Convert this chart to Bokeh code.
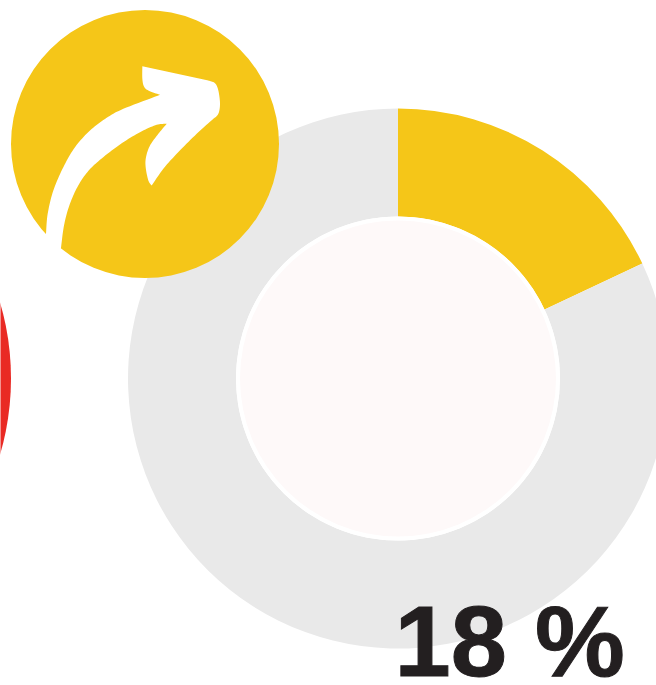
import math
import numpy as np
from bokeh.plotting import figure
from bokeh.models import Range1d, ColumnDataSource
from bokeh.core.properties import value
from bokeh.embed import file_html
from bokeh.resources import INLINE

W, H = 656, 685

# chart data
categories = ["Share", "Rest"]
percent_values = [18, 82]
slice_colors = ["#F5C618", "#E9E9E9"]
label_text = "18 %"


def Y(y):
    return H - y


def smooth(points, n=10):
    """Catmull-Rom through points, keeping both end points as corners."""
    pts = np.array(points, dtype=float)
    pts = np.vstack([pts[0], pts, pts[-1]])
    out = []
    for i in range(1, len(pts) - 2):
        p0, p1, p2, p3 = pts[i - 1], pts[i], pts[i + 1], pts[i + 2]
        for t in np.linspace(0, 1, n, endpoint=False):
            out.append(0.5 * (2 * p1 + (p2 - p0) * t + (2 * p0 - 5 * p1 + 4 * p2 - p3) * t ** 2
                              + (3 * p1 - p0 - 3 * p2 + p3) * t ** 3))
    out.append(pts[-1])
    return [tuple(q) for q in out]


p = figure(width=W, height=H, output_backend="svg", toolbar_location=None,
           x_range=Range1d(0.5, W + 0.5), y_range=Range1d(0, H),
           x_axis_location=None, y_axis_location=None,
           min_border=0, outline_line_color=None, background_fill_color="#FFFFFF",
           border_fill_color="#FFFFFF")
p.grid.visible = False

# neighbouring donut, only its edge shows at the left
p.circle(x=[-259], y=[Y(378)], radius=270, fill_color="#E92A24", line_color=None)

# donut
total = sum(percent_values)
ends = []
acc = 0
for v in percent_values:
    acc += v
    ends.append(acc)
starts = [0] + ends[:-1]
src = ColumnDataSource(dict(
    category=categories,
    start=[math.pi / 2 - 2 * math.pi * s / total for s in starts],
    end=[math.pi / 2 - 2 * math.pi * e / total for e in ends],
    color=slice_colors,
    x=[398, 398], y=[Y(378), Y(378)],
))
p.annular_wedge(x="x", y="y", inner_radius=162, outer_radius=270,
                start_angle="start", end_angle="end", direction="clock",
                fill_color="color", line_color=None, source=src)

# centre disc
p.circle(x=[398], y=[Y(378)], radius=162, fill_color="#FFFFFF", line_color=None)
p.circle(x=[398], y=[Y(378)], radius=158, fill_color="#FEF9F9", line_color=None)

# badge with arrow icon
p.circle(x=[145], y=[Y(143.5)], radius=134, fill_color="#F5C618", line_color=None)
head_top = [(427, 197), (625, 240)]
head_corner = [(625, 240), (645, 248), (655, 270), (660, 310), (655, 340), (640, 355)]
head_under = [(640, 355), (590, 400), (530, 460), (490, 505), (455, 555)]
barb = [(455, 555), (445, 540), (437, 500), (438, 470), (450, 435), (475, 400), (500, 370)]
lower_edge = [(500, 370), (470, 373), (420, 395), (360, 432), (300, 478), (262, 515),
              (232, 560), (208, 615), (192, 675), (183, 742)]
tail_end = [(183, 742), (170, 775), (115, 725), (138, 700)]
upper_edge = [(138, 700), (143, 640), (160, 570), (190, 500), (225, 440), (270, 390),
              (320, 352), (370, 325), (480, 283)]
notch = [(480, 283), (445, 270), (432, 258), (427, 235), (427, 197)]
arrow = (head_top + smooth(head_corner) + smooth(head_under) + smooth(barb)
         + smooth(lower_edge) + tail_end + smooth(upper_edge) + smooth(notch))
p.patch([a / 3 for a, b in arrow], [Y(b / 3) for a, b in arrow],
        fill_color="#FFFFFF", line_color=None)

# value label
p.text(x=[394.5], y=[Y(640.5)], text=[label_text], text_font=value("Liberation Sans"),
       text_font_style="bold", text_font_size="101px", text_color="#231F20",
       text_outline_color="#231F20",
       text_align="left", text_baseline="middle")

html = file_html(p, INLINE)
html = html.replace("<head>", "<head><style>html,body{margin:0;padding:0;overflow:hidden}</style>", 1)
open("out.html", "w").write(html)
